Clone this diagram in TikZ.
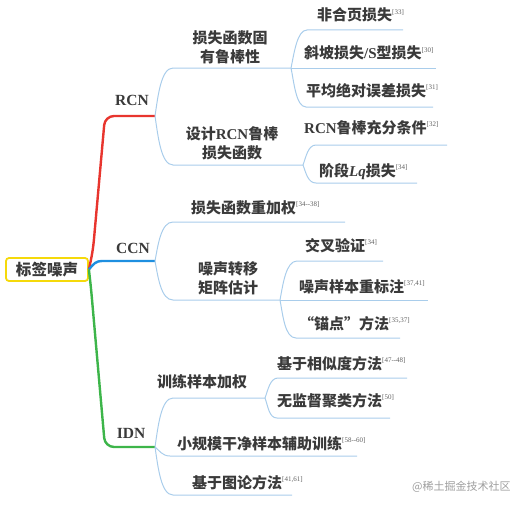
\documentclass[tikz,border=0pt]{standalone}
\usepackage{fontspec}
\setmainfont{Noto Sans CJK SC}
\newfontfamily\lat{Liberation Serif}
\definecolor{txt}{HTML}{3A3A3A}
\definecolor{sub}{HTML}{A9CDEB}
\definecolor{rcnred}{HTML}{E8352E}
\definecolor{ccnblue}{HTML}{1E8FE0}
\definecolor{idngreen}{HTML}{3DB54A}
\definecolor{rootyel}{HTML}{F5D90A}
\newcommand\sref[1]{\raisebox{0.46em}{\lat\fontsize{7}{8}\selectfont\mdseries\color{txt!80}[#1]}}
\tikzset{
  lbl/.style={inner sep=0pt, text=txt, font=\fontsize{15}{19}\selectfont\bfseries},
  lft/.style={lbl, anchor=base west},
  ml/.style={lbl, align=center},
  cat/.style={inner sep=0pt, text=txt, font=\lat\fontsize{15.5}{18}\selectfont\bfseries},
  subline/.style={draw=sub, line width=1pt},
  mainline/.style={line width=2.4pt, rounded corners=9pt},
}
\begin{document}
\begin{tikzpicture}[x=1pt,y=-1pt]
\useasboundingbox (0,0) rectangle (526,511);
% root
\node[draw=rootyel, line width=1.8pt, rounded corners=3pt, fill=white, minimum width=82pt, minimum height=23pt, inner sep=0pt, text=txt, font=\fontsize{15.5}{18}\selectfont\bfseries] (root) at (47,269.5) {标签噪声};
% category labels
\node[cat] (rcn) at (132,100) {RCN};
\node[cat] (ccn) at (133,248) {CCN};
\node[cat] (idn) at (131,433) {IDN};
% junction coordinates
\coordinate (jr) at (155,116);
\coordinate (jc) at (155,261);
\coordinate (ji) at (155,447);
% main branches
\draw[rcnred, mainline] (root.east) -- (93,250) -- (105,116) -- (jr);
\draw[ccnblue, line width=2.4pt] (root.east) .. controls +(5,-6) and +(-6,0) .. (102,261) -- (jc);
\draw[idngreen, mainline] (root.east) -- (91,288) -- (105,447) -- (ji);

% ---------- RCN ----------
\node[ml] (r1) at (230,47) {损失函数固\\有鲁棒性};
\node[ml] (r2) at (232,143) {设计{\lat RCN}鲁棒\\损失函数};
\coordinate (r1s) at (173,68);  \coordinate (r1j) at (291,68);
\coordinate (r2s) at (173,165); \coordinate (r2j) at (303,165);
\draw[subline] (jr) .. controls +(3,-20) and +(-12,0) .. (r1s) -- (r1j);
\draw[subline] (jr) .. controls +(3,20) and +(-12,0) .. (r2s) -- (r2j);

\node[lft] (r11) at (317,21) {非合页损失\sref{33}};
\node[lft] (r12) at (304,59) {斜坡损失{\lat /S}型损失\sref{30}};
\node[lft] (r13) at (306,96) {平均绝对误差损失\sref{31}};
\coordinate (r11s) at (307,30);  \coordinate (r11e) at (403,30);
\coordinate (r12e) at (436,68);
\coordinate (r13s) at (306,107); \coordinate (r13e) at (433,107);
\draw[subline] (r1j) .. controls +(3,-14) and +(-10,0) .. (r11s) -- (r11e);
\draw[subline] (r1j) -- (r12e);
\draw[subline] (r1j) .. controls +(3,14) and +(-10,0) .. (r13s) -- (r13e);

\node[lft] (r21) at (304,133) {{\lat RCN}鲁棒充分条件\sref{32}};
\node[lft] (r22) at (319,176) {阶段{\lat\itshape Lq}损失\sref{34}};
\coordinate (r21s) at (316,145); \coordinate (r21e) at (447,145);
\coordinate (r22s) at (316,183); \coordinate (r22e) at (417,183);
\draw[subline] (r2j) .. controls +(3,-8) and +(-8,0) .. (r21s) -- (r21e);
\draw[subline] (r2j) .. controls +(3,8) and +(-8,0) .. (r22s) -- (r22e);

% ---------- CCN ----------
\node[lft] (c1) at (191,213) {损失函数重加权\sref{34--38}};
\node[ml] (c2) at (228,278) {噪声转移\\矩阵估计};
\coordinate (c1s) at (173,222); \coordinate (c1e) at (345,222);
\coordinate (c2s) at (173,300); \coordinate (c2j) at (280,300);
\draw[subline] (jc) .. controls +(3,-16) and +(-12,0) .. (c1s) -- (c1e);
\draw[subline] (jc) .. controls +(3,16) and +(-12,0) .. (c2s) -- (c2j);

\node[lft] (c21) at (305,251) {交叉验证\sref{34}};
\node[lft] (c22) at (299,292) {噪声样本重标注\sref{37,41}};
\node[lft] (c23) at (299,329) {“锚点”方法\sref{35,37}};
\coordinate (c21s) at (297,261); \coordinate (c21e) at (383,261);
\coordinate (c22e) at (428,300);
\coordinate (c23s) at (296,338); \coordinate (c23e) at (400,338);
\draw[subline] (c2j) .. controls +(3,-16) and +(-11,0) .. (c21s) -- (c21e);
\draw[subline] (c2j) -- (c22e);
\draw[subline] (c2j) .. controls +(3,16) and +(-11,0) .. (c23s) -- (c23e);

% ---------- IDN ----------
\node[lft] (i1) at (157,387) {训练样本加权};
\node[lft] (i2) at (177,449) {小规模干净样本辅助训练\sref{58--60}};
\node[lft] (i3) at (192,488) {基于图论方法\sref{41,61}};
\coordinate (i1s) at (173,398); \coordinate (i1j) at (265,398);
\coordinate (i2s) at (170,456); \coordinate (i2e) at (357,456);
\coordinate (i3s) at (173,495); \coordinate (i3e) at (292,495);
\draw[subline] (ji) .. controls +(3,-20) and +(-12,0) .. (i1s) -- (i1j);
\draw[subline] (ji) .. controls +(4,3) and +(-8,0) .. (i2s) -- (i2e);
\draw[subline] (ji) .. controls +(3,20) and +(-12,0) .. (i3s) -- (i3e);

\node[lft] (i11) at (277,369) {基于相似度方法\sref{47--48}};
\node[lft] (i12) at (277,406) {无监督聚类方法\sref{50}};
\coordinate (i11s) at (278,378); \coordinate (i11e) at (407,378);
\coordinate (i12s) at (277,418); \coordinate (i12e) at (390,418);
\draw[subline] (i1j) .. controls +(3,-8) and +(-8,0) .. (i11s) -- (i11e);
\draw[subline] (i1j) .. controls +(3,8) and +(-8,0) .. (i12s) -- (i12e);

% watermark
\node[inner sep=0pt, anchor=west, text=black!38, font=\fontsize{11}{12}\selectfont] (wm) at (412,487) {@稀土掘金技术社区};
\end{tikzpicture}
\end{document}
